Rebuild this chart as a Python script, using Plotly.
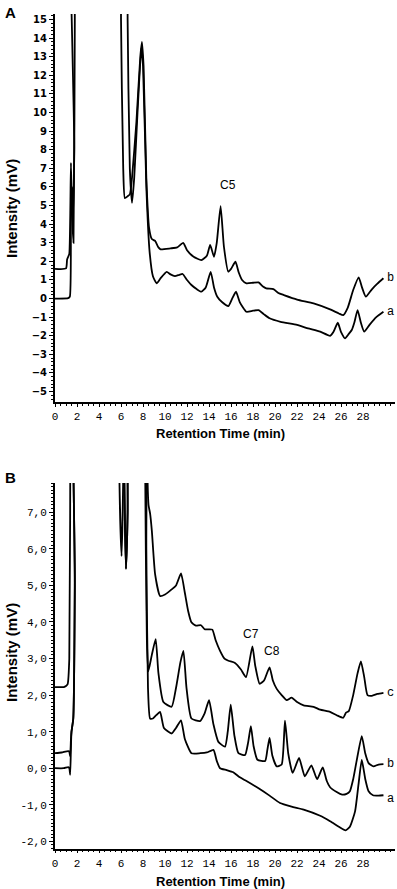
import plotly.graph_objects as go

# ---------- Panel A (top) ----------
a_top_t = [0, 1.2, 1.35, 1.45, 1.55, 1.65, 1.75, 1.95, 6.4, 6.6, 6.8, 7.0, 7.2, 7.5, 7.85, 8.0, 8.3, 8.6, 8.9, 9.24,
           9.6, 10.15, 10.5, 10.9, 11.3, 11.6, 12.0, 12.4, 12.9, 13.3, 13.7, 14.15, 14.45, 14.75, 15.2, 15.76, 16.1,
           16.45, 16.8, 17.4, 18.0, 18.5, 19.0, 19.5, 20.5, 22.0, 23.0, 24.1, 25.0, 25.3, 25.7, 26.0, 26.36, 26.7,
           26.97, 27.2, 27.5, 27.8, 28.1, 28.6, 29.2, 29.85]
a_top_v = [0.0, 0.02, 0.1, 4.5, 6.0, 4.5, 8.0, 60, 60, 15, 7.0, 5.15, 6.5, 10.0, 13.5, 12.5, 6.0, 2.5, 1.2, 0.82,
           1.1, 1.44, 1.3, 1.21, 1.28, 1.32, 1.0, 0.73, 0.5, 0.37, 0.6, 1.44, 0.6, 0.1, -0.2, -0.4, 0.0,
           0.37, -0.2, -0.71, -0.65, -0.62, -0.85, -1.06, -1.25, -1.42, -1.6, -1.78, -2.0, -1.8, -1.3, -1.8, -2.14, -1.9,
           -1.69, -1.3, -0.62, -1.3, -1.78, -1.4, -1.0, -0.71]

b_top_t = [0, 1.0, 1.1, 1.2, 1.3, 1.45, 1.55, 1.68, 1.8, 1.95, 5.8, 6.0, 6.2, 6.35, 6.6, 6.8, 7.0, 7.4, 7.75, 7.9,
           8.05, 8.3, 8.55, 8.8, 9.1, 9.4, 9.6, 10.5, 11.1, 11.65, 12.0, 12.6, 13.3, 13.8, 14.1, 14.45, 14.7, 15.05,
           15.35, 15.75, 16.0, 16.4, 16.7, 17.0, 17.4, 18.0, 18.5, 18.9, 19.2, 19.85, 20.3, 20.8, 22.0, 23.5, 25.0,
           25.8, 26.2, 26.6, 27.1, 27.6, 27.9, 28.25, 28.8, 29.3, 29.85]
b_top_v = [1.6, 1.62, 2.1, 2.25, 2.4, 7.3, 4.5, 3.0, 15, 60, 60, 15, 7.0, 5.4, 5.5, 5.6, 6.5, 9.5, 13.0, 13.8,
           12.5, 6.5, 3.8, 3.2, 3.1, 2.75, 2.65, 2.7, 2.75, 3.0, 2.6, 2.25, 2.07, 2.3, 2.88, 2.25, 3.0, 4.97,
           2.8, 1.45, 1.6, 1.98, 1.4, 1.0, 0.82, 0.85, 0.87, 0.65, 0.55, 0.51, 0.3, 0.19, -0.05, -0.26, -0.58,
           -0.8, -0.89, -0.5, 0.46, 1.14, 0.6, 0.1, 0.5, 0.8, 1.09]

# ---------- Panel B (bottom) ----------
a_bot_t = [0, 0.8, 1.2, 1.3, 1.38, 1.45, 1.5, 1.66, 1.8, 1.9, 6.15, 6.3, 6.45, 6.6, 6.9, 8.1, 8.3, 8.45, 8.64, 8.9,
           9.2, 9.55, 9.9, 10.6, 11.0, 11.45, 11.8, 12.4, 13.2, 13.8, 14.4, 14.7, 15.0, 15.6, 16.2, 16.8, 17.4, 18.5,
           19.5, 20.45, 21.5, 22.6, 24.1, 25.0, 25.8, 26.4, 26.8, 27.27, 27.6, 27.88, 28.2, 28.5, 28.9, 29.4, 29.85]
a_bot_v = [0.0, 0.0, 0.03, 0.0, -0.18, 0.6, 1.0, 1.36, 5.0, 60, 60, 8.0, 5.45, 7.0, 60, 60, 6.0, 2.2, 1.36, 1.36,
           1.45, 1.54, 1.1, 0.95, 1.1, 1.31, 0.8, 0.41, 0.41, 0.43, 0.5, 0.2, 0.0, -0.05, -0.11, -0.25, -0.35, -0.55,
           -0.75, -0.95, -1.05, -1.13, -1.3, -1.45, -1.6, -1.7, -1.6, -1.18, -0.4, 0.23, -0.3, -0.63, -0.74, -0.75, -0.74]

b_bot_t = [0, 0.6, 1.2, 1.3, 1.38, 1.45, 1.5, 1.66, 1.8, 1.9, 6.1, 6.3, 6.45, 6.6, 6.9, 8.0, 8.2, 8.35, 8.48, 8.8,
           9.15, 9.4, 9.85, 10.6, 11.0, 11.4, 11.67, 11.95, 12.4, 13.18, 13.6, 14.0, 14.4, 14.85, 15.45, 15.7, 15.97,
           16.3, 16.67, 17.27, 17.55, 17.8, 18.05, 18.4, 19.1, 19.3, 19.5, 19.75, 20.15, 20.6, 20.9, 21.2, 21.6,
           22.18, 22.7, 23.3, 23.82, 24.33, 24.7, 25.0, 25.6, 26.1, 26.5, 26.8, 27.1, 27.4, 27.88, 28.2, 28.5, 28.94,
           29.4, 29.85]
b_bot_v = [0.41, 0.43, 0.47, 0.45, 0.33, 0.8, 1.0, 1.36, 5.0, 60, 60, 8.0, 5.45, 7.0, 60, 60, 8.0, 3.5, 2.65, 3.1,
           3.53, 2.6, 1.81, 1.68, 2.2, 2.9, 3.21, 2.2, 1.36, 1.29, 1.5, 1.86, 1.2, 0.72, 0.59, 1.0, 1.74,
           0.9, 0.41, 0.36, 0.7, 1.15, 0.6, 0.23, 0.2, 0.5, 0.83, 0.35, 0.05, 0.1, 1.3, 0.4, -0.13,
           0.28, -0.22, 0.08, -0.3, 0.02, -0.35, -0.52, -0.65, -0.72, -0.7, -0.63, -0.3, 0.18, 0.88, 0.4, 0.14, 0.05,
           0.1, 0.11]

c_bot_t = [0, 0.8, 1.0, 1.15, 1.3, 1.4, 1.5, 5.7, 5.85, 6.05, 6.2, 6.35, 8.2, 8.35, 8.5, 8.64, 8.8, 9.1, 9.55, 10.0,
           10.6, 11.0, 11.45, 11.8, 12.1, 12.4, 12.8, 13.27, 13.6, 14.0, 14.3, 14.6, 15.0, 15.4, 15.76, 16.36, 16.9,
           17.36, 17.94, 18.2, 18.6, 19.0, 19.5, 19.8, 20.15, 20.6, 21.06, 21.5, 22.0, 22.6, 23.5, 24.1, 25.0, 25.6,
           26.2, 26.45, 26.7, 27.1, 27.5, 27.8, 28.1, 28.4, 28.8, 29.3, 29.85]
c_bot_v = [2.22, 2.22, 2.25, 2.3, 3.0, 10, 60, 60, 8.0, 5.8, 8.0, 60, 60, 9.0, 7.2, 6.97, 6.5, 5.3, 4.71, 4.75,
           4.89, 5.0, 5.33, 4.8, 4.3, 3.99, 3.9, 3.91, 3.8, 3.8, 3.79, 3.5, 3.21, 3.0, 2.94, 2.88, 2.7,
           2.49, 3.33, 2.8, 2.31, 2.4, 2.76, 2.4, 2.17, 2.0, 1.86, 1.93, 1.81, 1.72, 1.68, 1.6, 1.54, 1.45,
           1.38, 1.52, 1.56, 2.0, 2.6, 2.92, 2.5, 2.0, 1.98, 2.03, 2.06]

x_tickvals = list(range(0, 30, 2))
top_y_tickvals = list(range(-5, 16))
bot_y_tickvals = [-2, -1, 0, 1, 2, 3, 4, 5, 6, 7]
bot_y_ticktext = ["-2,0", "-1,0", "0,0", "1,0", "2,0", "3,0", "4,0", "5,0", "6,0", "7,0"]

line_style = dict(color="black", width=1.8, shape="spline", smoothing=0.5)

fig = go.Figure()
fig.add_trace(go.Scatter(x=a_top_t, y=a_top_v, mode="lines", line=line_style, xaxis="x", yaxis="y", showlegend=False))
fig.add_trace(go.Scatter(x=b_top_t, y=b_top_v, mode="lines", line=line_style, xaxis="x", yaxis="y", showlegend=False))
fig.add_trace(go.Scatter(x=a_bot_t, y=a_bot_v, mode="lines", line=line_style, xaxis="x2", yaxis="y2", showlegend=False))
fig.add_trace(go.Scatter(x=b_bot_t, y=b_bot_v, mode="lines", line=line_style, xaxis="x2", yaxis="y2", showlegend=False))
fig.add_trace(go.Scatter(x=c_bot_t, y=c_bot_v, mode="lines", line=line_style, xaxis="x2", yaxis="y2", showlegend=False))

mono = dict(family="Liberation Mono, Courier New, monospace", size=11, color="black")

xaxis_common = dict(
    range=[0, 30.9], showgrid=False, zeroline=False, showline=True, linecolor="black", linewidth=1.5,
    ticks="outside", ticklen=3, tickwidth=1, tickcolor="black", tickvals=x_tickvals,
    tickfont=mono, minor=dict(dtick=0.5, ticks="outside", ticklen=2, tickcolor="black", tickwidth=1),
)
fig.update_layout(
    width=397, height=889,
    margin=dict(l=55, r=2, t=14, b=37),
    paper_bgcolor="white", plot_bgcolor="white",
    xaxis=dict(domain=[0, 1], anchor="y", **xaxis_common),
    yaxis=dict(domain=[0.537, 1], anchor="x", range=[-5.56, 15.3], showgrid=False, zeroline=False,
               showline=True, linecolor="black", linewidth=2, ticks="outside", ticklen=4, tickwidth=1,
               tickcolor="black", tickvals=top_y_tickvals,
               tickfont=dict(family="DejaVu Sans", size=10, color="black", weight="bold"),
               minor=dict(dtick=0.2, ticks="outside", ticklen=2, tickcolor="black", tickwidth=1)),
    xaxis2=dict(domain=[0, 1], anchor="y2", **xaxis_common),
    yaxis2=dict(domain=[0.004, 0.4403], anchor="x2", range=[-2.2, 7.8], showgrid=False, zeroline=False,
                showline=True, linecolor="black", linewidth=2, ticks="outside", ticklen=4, tickwidth=1,
                tickcolor="black", tickvals=bot_y_tickvals, ticktext=bot_y_ticktext, tickfont=mono,
                minor=dict(dtick=0.1, ticks="outside", ticklen=2, tickcolor="black", tickwidth=1)),
)

title_font = dict(family="Liberation Sans, Arial", size=13, color="black", weight="bold")
ytitle_font = dict(family="Liberation Sans, Arial", size=15, color="black", weight="bold")
ann = [
    dict(text="A", x=(3 - 55) / 340, y=(852 - 2) / 838, xanchor="left", yanchor="top"),
    dict(text="B", x=(3 - 55) / 340, y=(852 - 467) / 838, xanchor="left", yanchor="top"),
]
for a in ann:
    fig.add_annotation(xref="paper", yref="paper", showarrow=False,
                       font=dict(family="Liberation Sans, Arial", size=15, color="black", weight="bold"), **a)

fig.add_annotation(xref="paper", yref="paper", x=(220 - 55) / 340, y=(852 - 433) / 838, text="Retention Time (min)",
                   showarrow=False, font=title_font, xanchor="center", yanchor="middle")
fig.add_annotation(xref="paper", yref="paper", x=(220 - 55) / 340, y=(852 - 881) / 838, text="Retention Time (min)",
                   showarrow=False, font=title_font, xanchor="center", yanchor="middle")
fig.add_annotation(xref="paper", yref="paper", x=(11 - 55) / 340, y=(852 - 208) / 838, text="Intensity (mV)",
                   showarrow=False, font=ytitle_font, textangle=-90, xanchor="center", yanchor="middle")
fig.add_annotation(xref="paper", yref="paper", x=(11 - 55) / 340, y=(852 - 652) / 838, text="Intensity (mV)",
                   showarrow=False, font=ytitle_font, textangle=-90, xanchor="center", yanchor="middle")

peak_font = dict(family="Liberation Sans, Arial", size=12, color="black")
fig.add_annotation(xref="x", yref="y", x=15.7, y=6.1, text="C5", showarrow=False, font=peak_font)
fig.add_annotation(xref="x2", yref="y2", x=17.8, y=3.67, text="C7", showarrow=False, font=peak_font)
fig.add_annotation(xref="x2", yref="y2", x=19.7, y=3.21, text="C8", showarrow=False, font=peak_font)

lab_font = dict(family="Liberation Mono, Courier New, monospace", size=12, color="black")
fig.add_annotation(xref="x", yref="y", x=30.0, y=1.09, text="b", showarrow=False, font=lab_font, xanchor="left")
fig.add_annotation(xref="x", yref="y", x=30.0, y=-0.71, text="a", showarrow=False, font=lab_font, xanchor="left")
fig.add_annotation(xref="x2", yref="y2", x=30.0, y=2.06, text="c", showarrow=False, font=lab_font, xanchor="left")
fig.add_annotation(xref="x2", yref="y2", x=30.0, y=0.11, text="b", showarrow=False, font=lab_font, xanchor="left")
fig.add_annotation(xref="x2", yref="y2", x=30.0, y=-0.84, text="a", showarrow=False, font=lab_font, xanchor="left")

fig.write_html("out.html", config={"displayModeBar": False},
               post_script="document.body.style.margin='0';document.body.style.overflow='hidden';")
